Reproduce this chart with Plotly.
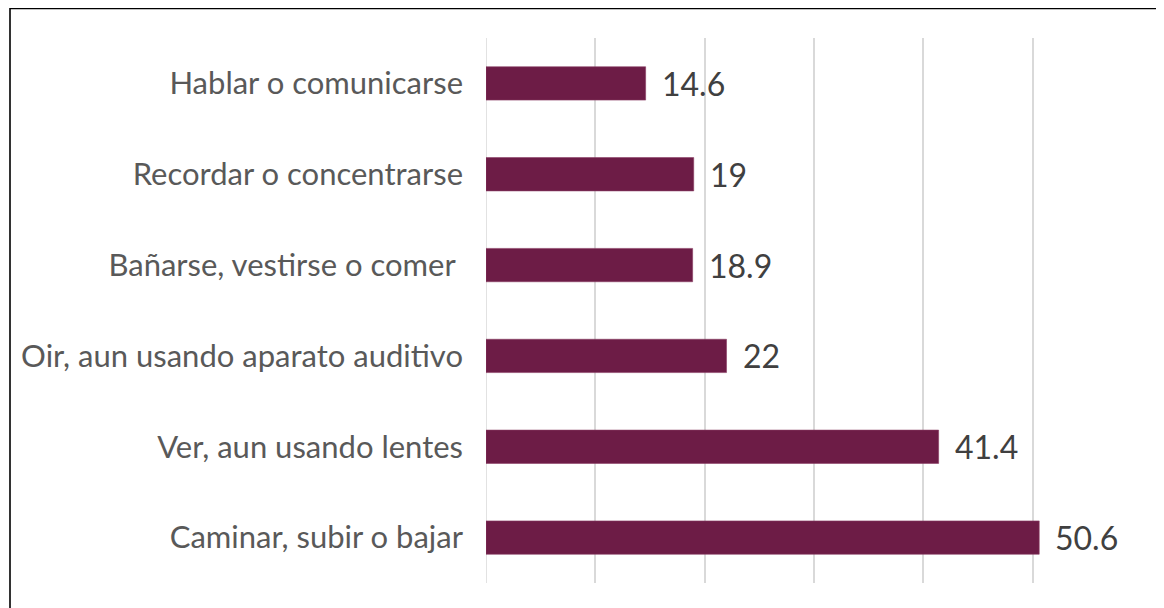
import plotly.graph_objects as go

categories = [
    "Hablar o comunicarse",
    "Recordar o concentrarse",
    "Bañarse, vestirse o comer\u00a0",
    "Oir, aun usando aparato auditivo",
    "Ver, aun usando lentes",
    "Caminar, subir o bajar",
]
values = [14.6, 19, 18.9, 22, 41.4, 50.6]
value_labels = ["14.6", "19", "18.9", "22", "41.4", "50.6"]

OFF = 8  # page body margin
W, H = 1164 - OFF, 608 - OFF
ml, mt = 486 - OFF, 38 - OFF
pw, ph = 656, 545
mr, mb = W - ml - pw, H - mt - ph

fig = go.Figure()
fig.add_trace(go.Bar(
    x=values, y=categories, orientation="h",
    marker=dict(color="#6D1C46", line=dict(color="#8a3c63", width=0.6)),
    hoverinfo="skip",
))

for v, c, t in zip(values, categories, value_labels):
    fig.add_annotation(x=v, y=c, text=t, showarrow=False, xanchor="left",
                       xshift=14, font=dict(family="Lato", size=32, color="#404040"))

# outer border (screen px -> paper)
def px2x(p):
    return (p - OFF - ml) / pw

def px2y(p):
    return (H - mb - (p - OFF)) / ph

fig.add_shape(type="rect", xref="paper", yref="paper",
              x0=px2x(10), x1=px2x(1164 + 40), y0=px2y(8.5), y1=px2y(608 + 40),
              line=dict(color="#000000", width=1.6), fillcolor="rgba(0,0,0,0)", layer="above")

fig.update_layout(
    width=W, height=H,
    margin=dict(l=ml, r=mr, t=mt, b=mb, autoexpand=False),
    paper_bgcolor="white", plot_bgcolor="white",
    bargap=0.633, showlegend=False,
    font=dict(family="Lato", color="#595959"),
)
fig.update_xaxes(range=[0, 60], dtick=10, showgrid=True, gridcolor="#D9D9D9", gridwidth=1.5,
                 zeroline=False, showline=False, showticklabels=False, fixedrange=True)
fig.update_yaxes(autorange="reversed", showgrid=False, ticks="", ticklabelstandoff=22,
                 tickfont=dict(family="Lato", size=31, color="#595959"), showline=False,
                 fixedrange=True)
fig.add_shape(type="line", xref="x", yref="paper", x0=0, x1=0, y0=0, y1=1,
              line=dict(color="#D9D9D9", width=1.5), layer="below")

fig.write_html("out.html", config={"displayModeBar": False})
